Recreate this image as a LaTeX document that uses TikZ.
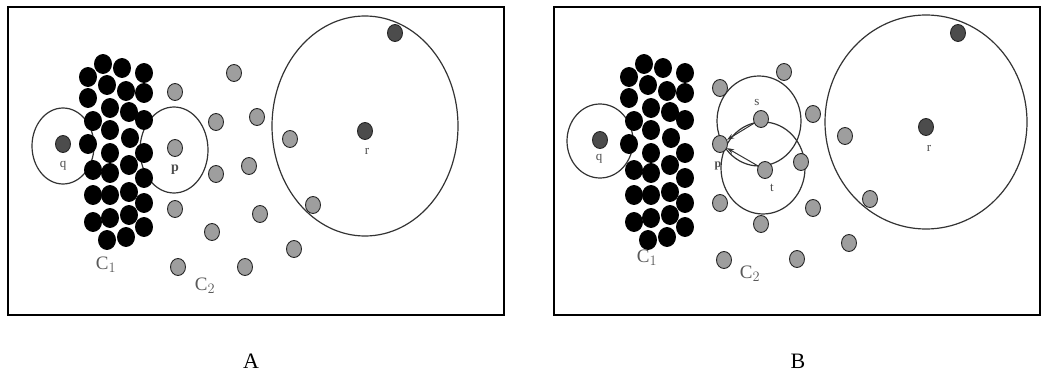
\documentclass[tikz,border=0pt]{standalone}
\usepackage{fontspec}
\setmainfont{Liberation Serif}
\usetikzlibrary{arrows.meta, shapes.geometric}

% points of the dense cluster C1 (panel A, pixels)
\newcommand{\clusterpts}{103/64, 122/68, 144/73, 88/77, 107/85, 126/91, 144/93,
  88/98, 110/108, 129/112, 144/120, 93/121, 110/130, 130/138, 88/144, 144/153,
  110/153, 93/170, 129/165, 110/173, 144/178, 93/195, 110/195, 129/192, 144/203,
  93/222, 110/218, 129/215, 144/227, 107/240, 126/237}

\begin{document}
\begin{tikzpicture}[
    x=1pt, y=-1pt,
    dot/.style={ellipse, draw=black!85, line width=0.9pt, inner sep=0pt, minimum width=15pt, minimum height=17pt},
    bdot/.style={dot, fill=black, draw=black, minimum width=17pt, minimum height=19pt},
    gdot/.style={dot, fill=black!38},
    ddot/.style={dot, fill=black!70},
    ring/.style={draw=black!80, line width=1.2pt},
    frame/.style={draw=black, line width=1.8pt},
    lbl/.style={text=black!70, font=\fontsize{13}{15}\selectfont, inner sep=0pt},
    cl/.style={text=black!65, font=\fontsize{19}{22}\selectfont, inner sep=0pt},
    arr/.style={-{Stealth[length=7pt, width=5pt]}, line width=1pt, draw=black!80}
  ]
  \useasboundingbox (0,0) rectangle (1041,385);

  % Panel A
  \draw[frame] (8,7) rectangle (504,315);
  \draw[ring] (63,146) ellipse [x radius=31, y radius=38];
  \draw[ring] (174,150) ellipse [x radius=34, y radius=43];
  \draw[ring] (365,126) ellipse [x radius=93, y radius=110];
  \foreach \x/\y [count=\i] in \clusterpts
    \node[bdot] (ca\i) at (\x,\y) {};
  \node[ddot] (qa) at (63,144) {};
  \node[ddot] (ra) at (365,131) {};
  \node[ddot] (ta) at (395,33) {};
  \node[gdot] (pa) at (175,148) {};
  \foreach \x/\y [count=\i] in {175/92, 234/73, 216/122, 257/117, 216/174, 249/166,
      290/139, 175/209, 212/232, 260/214, 313/205, 294/249, 178/267, 245/267}
    \node[gdot] (ga\i) at (\x,\y) {};
  \node[lbl] (qla) at (63,166) {q};
  \node[lbl, font=\fontsize{14}{16}\selectfont\bfseries] (pla) at (175,170) {p};
  \node[lbl] (rla) at (367,151) {r};
  \node[cl] (c1a) at (106,265) {C$_1$};
  \node[cl] (c2a) at (205,286) {C$_2$};

  % Panel B
  \draw[frame] (554,7) rectangle (1040,315);
  \draw[ring] (600,141) ellipse [x radius=33, y radius=37];
  \draw[ring] (759,121) ellipse [x radius=42, y radius=45];
  \draw[ring] (763,168) ellipse [x radius=42, y radius=46];
  \draw[ring] (926,122) ellipse [x radius=101, y radius=107];
  \begin{scope}[xshift=541pt]
    \foreach \x/\y [count=\i] in \clusterpts
      \node[bdot] (cb\i) at (\x,\y) {};
  \end{scope}
  \node[ddot] (qb) at (600,140) {};
  \node[ddot] (rb) at (926,127) {};
  \node[ddot] (tb) at (958,33) {};
  \node[gdot] (pb) at (720,144) {};
  \node[gdot] (s) at (761,119) {};
  \node[gdot] (t) at (765,170) {};
  \foreach \x/\y [count=\i] in {720/88, 720/203, 724/260, 784/72, 813/114, 845/136,
      801/162, 813/208, 870/199, 761/224, 849/243, 797/259}
    \node[gdot] (gb\i) at (\x,\y) {};
  \draw[arr] (s) -- (pb);
  \draw[arr] (t) -- (pb);
  \node[lbl] (qlb) at (599,159) {q};
  \node[lbl, font=\fontsize{12}{14}\selectfont\bfseries] (plb) at (718,166) {p};
  \node[lbl] (slb) at (757,103) {s};
  \node[lbl] (tlb) at (772,188) {t};
  \node[lbl] (rlb) at (929,148) {r};
  \node[cl] (c1b) at (647,258) {C$_1$};
  \node[cl] (c2b) at (750,274) {C$_2$};

  % Captions
  \node[font=\fontsize{22}{26}\selectfont] (capa) at (251,361) {A};
  \node[font=\fontsize{22}{26}\selectfont] (capb) at (798,361) {B};
\end{tikzpicture}
\end{document}
